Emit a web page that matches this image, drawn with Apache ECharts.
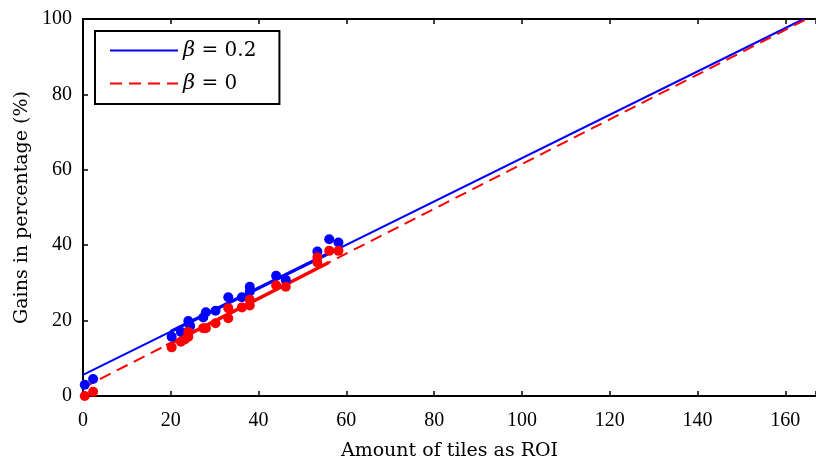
<!DOCTYPE html>
<html><head><meta charset="utf-8">
<script src="https://cdn.jsdelivr.net/npm/echarts@6/dist/echarts.min.js"></script>
<style>html,body{margin:0;padding:0;background:#fff}#c{width:816px;height:460px}</style>
</head><body><div id="c"></div>
<script>
// Data
var xTicks = [0, 20, 40, 60, 80, 100, 120, 140, 160];
var yTicks = [0, 20, 40, 60, 80, 100];
var seriesNames = ['b02', 'b0'];
var legendLabels = {b02: '{i|β} = 0.2', b0: '{i|β} = 0'};
// fitted lines (full range)
var blueLine = [[0, 5.6], [164.2, 100]];
var redLine = [[0, 2.2], [164.9, 100]];
// fitted lines over the data range
var blueSeg = [[20, 17.1], [58, 39]];
var redSeg = [[19, 13.3], [56, 35.4]];
// scatter points
var blueX = [0.4, 2.3, 20.2, 22.3, 24, 24.4, 27.4, 28, 30.2, 33.1, 36.2, 38, 38, 44, 46.2, 53.4, 56.1, 58.2];
var blueY = [3, 4.5, 15.7, 17, 19.9, 18.6, 20.8, 22.2, 22.6, 26.2, 26.2, 29, 27.7, 31.9, 30.8, 38.3, 41.6, 40.7];
var redX = [0.4, 2.3, 20.2, 22.3, 23.2, 24, 24, 27.4, 28, 30.2, 33.1, 33.1, 36.2, 38, 38, 44, 46.2, 53.4, 53.4, 56.1, 58.2];
var redY = [0, 1.1, 12.9, 14.4, 15, 17, 15.7, 18, 18, 19.3, 23.3, 20.6, 23.5, 25.5, 24, 29.4, 29, 36.8, 35.4, 38.5, 38.5];

function zip(a, b) { return a.map(function (v, i) { return [v, b[i]]; }); }

var FONT = 'Liberation Serif';
var TFONT = 'DejaVu Serif';
var chart = echarts.init(document.getElementById('c'), null, {renderer: 'canvas'});
var axisLine = {show: true, lineStyle: {color: '#000', width: 2}};
var tick = {show: true, inside: true, length: 5, lineStyle: {color: '#000', width: 1.5}};
var option = {
  animation: false,
  grid: {left: 83, right: 0, top: 19, bottom: 64, containLabel: false, outerBoundsMode: 'none'},
  xAxis: [{
    type: 'value', min: 0, max: 167, interval: 20, position: 'bottom',
    axisLine: axisLine, axisTick: tick,
    axisLabel: {color: '#000', fontFamily: FONT, fontSize: 20, margin: 15,
      formatter: function (v) { return xTicks.indexOf(v) >= 0 ? String(v) : ''; }},
    splitLine: {show: false},
    name: 'Amount of tiles as ROI', nameLocation: 'middle', nameGap: 46,
    nameTextStyle: {color: '#000', fontFamily: TFONT, fontSize: 19}
  }, {
    type: 'value', min: 0, max: 167, interval: 20, position: 'top',
    axisLine: axisLine, axisTick: tick,
    axisLabel: {show: false}, splitLine: {show: false}
  }],
  yAxis: [{
    type: 'value', min: 0, max: 100, interval: 20,
    axisLine: axisLine, axisTick: tick,
    axisLabel: {color: '#000', fontFamily: FONT, fontSize: 20, margin: 11,
      formatter: function (v) { return yTicks.indexOf(v) >= 0 ? String(v) : ''; }},
    splitLine: {show: false},
    name: 'Gains in percentage (%)', nameLocation: 'middle', nameGap: 41,
    nameTextStyle: {color: '#000', fontFamily: TFONT, fontSize: 19}
  }],
  legend: {
    data: seriesNames, orient: 'vertical', left: 95, top: 31,
    padding: [9, 23, 10, 14], itemGap: 12, itemWidth: 68, itemHeight: 20,
    backgroundColor: '#fff', borderColor: '#000', borderWidth: 2, borderRadius: 0,
    itemStyle: {opacity: 0},
    formatter: function (n) { return legendLabels[n]; },
    textStyle: {color: '#000', fontFamily: TFONT, fontSize: 20,
      rich: {i: {fontStyle: 'italic', fontFamily: TFONT, fontSize: 21}}}
  },
  series: [
    {name: 'b02', type: 'line', data: blueLine, symbol: 'none', z: 3,
      lineStyle: {color: '#0000ff', width: 2}, itemStyle: {color: '#0000ff'}},
    {name: 'b0', type: 'line', data: redLine, symbol: 'none', z: 3,
      lineStyle: {color: '#ff0000', width: 2, type: [12, 7]}, itemStyle: {color: '#ff0000'}},
    {name: 'bseg', type: 'line', data: blueSeg, symbol: 'none', z: 4,
      lineStyle: {color: '#0000ff', width: 3.5}},
    {name: 'rseg', type: 'line', data: redSeg, symbol: 'none', z: 4,
      lineStyle: {color: '#ff0000', width: 3.5}},
    {name: 'bpts', type: 'scatter', data: zip(blueX, blueY), symbol: 'circle', symbolSize: 10, clip: false, z: 5,
      itemStyle: {color: '#0000ff', opacity: 1}},
    {name: 'rpts', type: 'scatter', data: zip(redX, redY), symbol: 'circle', symbolSize: 10, clip: false, z: 6,
      itemStyle: {color: '#ff0000', opacity: 1}}
  ]
};
chart.setOption(option);
</script></body></html>
